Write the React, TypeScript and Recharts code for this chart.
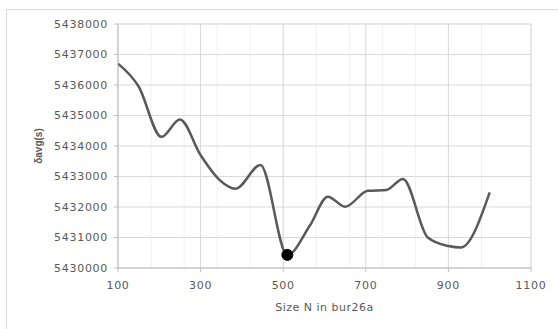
import { LineChart, Line, XAxis, YAxis, CartesianGrid, ReferenceDot } from 'recharts'

// size N vs average delta
const sizes = [100, 150, 205, 250, 300, 345, 385, 445, 510, 565, 608, 650, 705, 750, 790, 850, 900, 930, 1000]
const deltaAvg = [
  5436700, 5435950, 5434300, 5434870, 5433700, 5432900, 5432600, 5433380, 5430430, 5431400,
  5432340, 5432010, 5432530, 5432560, 5432920, 5431000, 5430720, 5430670, 5432480,
]
const xTicks = [100, 300, 500, 700, 900, 1100]
const yTicks = [5430000, 5431000, 5432000, 5433000, 5434000, 5435000, 5436000, 5437000, 5438000]
const xMinor = Array.from({ length: 26 }, (_, i) => 100 + i * 40)
const yMinor = Array.from({ length: 41 }, (_, i) => 5430000 + i * 200)
const bestPoint = { x: 510, y: 5430430 }

const data = sizes.map((n, i) => ({ n, d: deltaAvg[i] }))

const tickStyle = { fill: '#595959', fontSize: 11, fontFamily: 'DejaVu Sans', letterSpacing: 0.7 }

export default function App() {
  return (
    <div style={{ position: 'absolute', left: 0, top: 0, width: 558, height: 329, background: '#fff', overflow: 'hidden' }}>
      <div style={{ position: 'absolute', left: 6, top: 9, width: 600, height: 400, border: '1px solid #d9d9d9' }} />
      <div style={{ position: 'absolute', left: 0, top: 0 }}>
        <LineChart width={558} height={329} data={data} margin={{ top: 24, right: 27, left: 0, bottom: 0 }}>
          <XAxis xAxisId="minor" dataKey="n" type="number" domain={[100, 1100]} ticks={xMinor} hide />
          <YAxis yAxisId="minor" type="number" domain={[5430000, 5438000]} ticks={yMinor} hide />
          <CartesianGrid xAxisId="minor" yAxisId="minor" stroke="#f0f0f0" strokeWidth={1} />
          <CartesianGrid stroke="#d9d9d9" strokeWidth={1} />
          <XAxis
            dataKey="n"
            type="number"
            domain={[100, 1100]}
            ticks={xTicks}
            height={61}
            tickSize={4}
            tickMargin={9}
            stroke="#bfbfbf"
            tick={tickStyle}
            label={{
              value: 'Size N in bur26a',
              position: 'insideBottom',
              offset: 18,
              style: { fill: '#595959', fontSize: 11, fontFamily: 'DejaVu Sans', letterSpacing: 0.5 },
            }}
          />
          <YAxis
            type="number"
            domain={[5430000, 5438000]}
            ticks={yTicks}
            width={118}
            tickSize={4}
            tickMargin={6}
            stroke="#bfbfbf"
            tick={tickStyle}
            label={{
              value: 'δavg(s)',
              angle: -90,
              position: 'insideLeft',
              offset: 38,
              style: { fill: '#595959', fontSize: 10, fontWeight: 'bold', fontFamily: 'Liberation Sans', textAnchor: 'middle' },
            }}
          />
          <Line
            dataKey="d"
            type="monotone"
            stroke="#595959"
            strokeWidth={2.5}
            dot={false}
            isAnimationActive={false}
          />
          <ReferenceDot x={bestPoint.x} y={bestPoint.y} r={5.5} fill="#000" stroke="#000" />
        </LineChart>
      </div>
    </div>
  )
}
